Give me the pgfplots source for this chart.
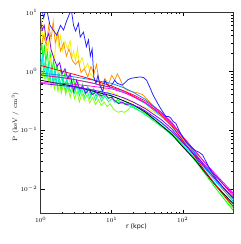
\documentclass[border=0pt]{standalone}
\usepackage{pgfplots}
\pgfplotsset{compat=1.18}
\usepackage{fontspec}
\newfontfamily\dejavu{DejaVu Sans}
\definecolor{cBlue}{HTML}{1E1EFF}
\definecolor{cPurple}{HTML}{8000FF}
\definecolor{cMag}{HTML}{FF00FF}
\definecolor{cPink}{HTML}{FF0080}
\definecolor{cRed}{HTML}{FF0000}
\definecolor{cOrange}{HTML}{FF9000}
\definecolor{cYellow}{HTML}{F0F000}
\definecolor{cChart}{HTML}{80FF00}
\definecolor{cGreen}{HTML}{00FF00}
\definecolor{cSpring}{HTML}{00FF90}
\definecolor{cCyan}{HTML}{00F0F0}
\definecolor{cAzure}{HTML}{0090FF}
\definecolor{cSky}{HTML}{00C8FF}
\begin{document}
\begin{tikzpicture}
\begin{axis}[name=ax,
  at={(0,0)}, anchor=south west,
  xmode=log, ymode=log,
  width=192.6pt, height=201.4pt, scale only axis,
  xmin=1, xmax=515, ymin=0.0038, ymax=10,
  xtick={1,10,100}, ytick={0.01,0.1,1,10},
  tick align=inside, tick pos=both,
  major tick length=4pt, minor tick length=2pt,
  every tick/.style={black, line width=0.5pt},
  axis line style={line width=0.8pt, black!80},
  tick label style={font=\fontsize{6}{7}\selectfont},
  xlabel={\dejavu r (kpc)},
  ylabel={$\mathrm{P\ (keV\ /\ cm^3)}$},
  xlabel style={at={(axis description cs:0.497,-0.066)}, anchor=center, font=\fontsize{6.3}{7}\selectfont},
  ylabel style={at={(axis description cs:-0.133,0.48)}, anchor=center, font=\fontsize{6.3}{7}\selectfont},
  every axis plot/.append style={line width=0.75pt, no markers},
]
% chartreuse noisy
\addplot[cChart] coordinates {(1.0,1.5)(1.05,0.8)(1.1,1.1)(1.15,0.7)(1.2,1.2)(1.27,0.65)(1.33,0.9)(1.4,0.55)(1.48,0.8)(1.56,0.5)(1.65,0.7)(1.75,0.45)(1.85,0.65)(1.95,0.42)(2.1,0.6)(2.25,0.4)(2.4,0.55)(2.6,0.36)(2.8,0.5)(3.0,0.34)(3.25,0.46)(3.5,0.3)(3.8,0.42)(4.1,0.32)(4.5,0.4)(4.9,0.29)(5.4,0.36)(5.9,0.27)(6.5,0.33)(7.1,0.26)(7.8,0.3)(8.6,0.25)(9.5,0.28)(10.5,0.23)(11.5,0.21)(12.5,0.2)(13.5,0.21)(15,0.2)(17,0.22)(19,0.26)(22,0.25)(26,0.22)(32,0.18)(40,0.14)(50,0.115)(70,0.085)(100,0.055)(150,0.032)(200,0.02)(300,0.011)(515,0.0046)};
% green noisy
\addplot[cGreen] coordinates {(1.0,2)(1.04,3)(1.08,1.5)(1.13,2.8)(1.18,1.4)(1.24,2.2)(1.3,1.1)(1.37,1.9)(1.44,1.0)(1.52,1.6)(1.6,0.85)(1.7,1.3)(1.8,0.75)(1.92,1.1)(2.05,0.65)(2.2,0.95)(2.35,0.6)(2.5,0.85)(2.7,0.52)(2.9,0.75)(3.1,0.5)(3.35,0.65)(3.6,0.45)(3.9,0.6)(4.2,0.42)(4.6,0.55)(5.0,0.4)(5.5,0.5)(6.0,0.37)(6.6,0.46)(7.3,0.35)(8,0.42)(9,0.34)(10,0.37)(11,0.3)(12,0.33)(14,0.29)(17,0.28)(20,0.25)(25,0.21)(30,0.19)(40,0.15)(50,0.12)(70,0.088)(100,0.055)(150,0.03)(200,0.019)(300,0.0098)(515,0.0043)};
% spring green noisy
\addplot[cSpring] coordinates {(1.0,1.2)(1.05,1.7)(1.1,0.9)(1.16,1.4)(1.22,0.8)(1.29,1.2)(1.36,0.7)(1.44,1.05)(1.52,0.62)(1.62,0.9)(1.72,0.56)(1.83,0.8)(1.95,0.5)(2.1,0.72)(2.25,0.46)(2.4,0.66)(2.6,0.44)(2.8,0.6)(3.0,0.42)(3.25,0.56)(3.5,0.38)(3.8,0.5)(4.1,0.36)(4.5,0.47)(4.9,0.34)(5.4,0.44)(5.9,0.32)(6.5,0.41)(7.2,0.31)(8,0.38)(9,0.3)(10,0.34)(11,0.3)(13,0.29)(16,0.27)(20,0.24)(25,0.21)(30,0.18)(40,0.14)(50,0.115)(70,0.082)(100,0.053)(150,0.031)(200,0.02)(300,0.0108)(515,0.005)};
% cyan noisy
\addplot[cCyan] coordinates {(1.0,2.0)(1.03,1.2)(1.07,1.9)(1.11,1.0)(1.16,1.6)(1.21,0.85)(1.27,1.3)(1.33,0.75)(1.4,1.15)(1.48,0.68)(1.56,1.0)(1.65,0.62)(1.75,0.9)(1.86,0.58)(2.0,0.8)(2.15,0.55)(2.3,0.72)(2.5,0.5)(2.7,0.66)(2.95,0.48)(3.2,0.6)(3.5,0.45)(3.8,0.56)(4.2,0.43)(4.6,0.52)(5.1,0.41)(5.6,0.5)(6.2,0.4)(7,0.46)(7.8,0.39)(8.7,0.44)(10,0.38)(12,0.35)(15,0.31)(20,0.26)(25,0.23)(30,0.2)(40,0.16)(50,0.13)(70,0.093)(100,0.058)(150,0.033)(200,0.021)(300,0.0115)(515,0.0054)};
% yellow noisy
\addplot[cYellow] coordinates {(1.0,3.5)(1.03,8)(1.07,3)(1.12,4.5)(1.2,2.2)(1.28,3.2)(1.35,1.4)(1.45,2.1)(1.55,1.6)(1.7,4.5)(1.8,2.6)(1.9,4)(2.05,2.2)(2.2,3.2)(2.4,2.4)(2.6,3.3)(2.75,1.7)(2.9,2.2)(3.1,1.5)(3.3,2.5)(3.5,1.3)(3.8,1.7)(4.2,1.1)(4.6,1.35)(5.0,0.9)(5.5,0.8)(6,0.62)(7,0.55)(8,0.5)(10,0.44)(13,0.37)(17,0.32)(22,0.28)(30,0.24)(40,0.2)(50,0.17)(60,0.15)(70,0.12)(85,0.1)(100,0.075)(130,0.05)(170,0.033)(200,0.026)(300,0.014)(400,0.0095)(515,0.0066)};
% orange noisy
\addplot[cOrange] coordinates {(1.0,2.5)(1.1,4)(1.2,2.8)(1.3,6)(1.4,3.5)(1.5,7)(1.6,3)(1.75,4.5)(1.9,2.2)(2.1,3)(2.3,1.8)(2.5,2.4)(2.8,1.5)(3.1,1.3)(3.4,1.5)(3.7,0.95)(4.1,1.1)(4.6,0.8)(5.1,1.2)(5.6,0.9)(6.1,1.3)(6.6,0.7)(7.2,0.55)(8,0.75)(9,0.6)(10,0.85)(11,0.7)(12,0.9)(13,0.75)(14.5,0.55)(16,0.48)(19,0.45)(23,0.43)(27,0.4)(32,0.33)(40,0.24)(50,0.18)(70,0.12)(100,0.07)(150,0.04)(200,0.025)(300,0.0135)(515,0.006)};
% black smooth
\addplot[black] coordinates {(1,0.7)(3,0.55)(10,0.38)(20,0.27)(30,0.2)(50,0.12)(70,0.085)(100,0.052)(150,0.031)(200,0.02)(300,0.011)(515,0.0056)};
% sky smooth
\addplot[cSky] coordinates {(1,0.86)(2,0.78)(3,0.72)(5,0.64)(7,0.58)(10,0.52)(15,0.44)(20,0.37)(30,0.28)(50,0.17)(70,0.115)(100,0.066)(150,0.037)(200,0.023)(300,0.0128)(515,0.0062)};
% azure smooth
\addplot[cAzure] coordinates {(1,0.93)(2,0.85)(3,0.8)(5,0.72)(7,0.67)(10,0.62)(15,0.52)(20,0.44)(30,0.33)(50,0.2)(70,0.13)(100,0.075)(150,0.04)(200,0.025)(300,0.014)(515,0.0068)};
% red smooth
\addplot[cRed] coordinates {(1,1.25)(2,1.0)(3,0.88)(5,0.74)(7,0.64)(10,0.56)(15,0.46)(20,0.38)(30,0.29)(50,0.18)(70,0.12)(100,0.066)(150,0.035)(200,0.021)(300,0.011)(515,0.005)};
% pink smooth
\addplot[cPink] coordinates {(1,0.86)(2,0.78)(3,0.72)(5,0.64)(7,0.58)(10,0.53)(13.5,0.48)(20,0.4)(30,0.31)(50,0.2)(70,0.135)(100,0.078)(150,0.044)(200,0.029)(300,0.016)(515,0.0076)};
% purple smooth
\addplot[cPurple] coordinates {(1,0.62)(2,0.57)(3,0.54)(5,0.49)(7,0.45)(10,0.41)(15,0.35)(20,0.3)(30,0.23)(50,0.15)(70,0.105)(100,0.062)(150,0.036)(200,0.024)(300,0.014)(515,0.007)};
% purple noisy
\addplot[cPurple] coordinates {(1.0,7)(1.05,5)(1.12,6)(1.2,3.4)(1.3,4.4)(1.4,2.3)(1.55,1.6)(1.7,1.2)(1.85,1.4)(2.0,0.9)(2.2,1.1)(2.4,0.75)(2.6,0.9)(2.9,0.45)(3.2,0.7)(3.5,0.5)(3.9,0.55)(4.3,0.42)(4.8,0.5)(5.3,0.4)(6,0.44)(7,0.38)(8,0.41)(9,0.35)(10,0.36)(11,0.32)(12.5,0.28)(14,0.3)(16,0.27)(18,0.28)(21,0.26)(25,0.24)(30,0.21)(40,0.165)(50,0.135)(70,0.095)(100,0.062)(150,0.038)(200,0.026)(300,0.016)(400,0.011)(515,0.0083)};
% magenta smooth
\addplot[cMag] coordinates {(1,0.64)(2,0.62)(3,0.6)(5,0.56)(7,0.53)(10,0.5)(15,0.43)(20,0.37)(30,0.29)(50,0.19)(70,0.13)(100,0.075)(150,0.043)(200,0.029)(300,0.017)(515,0.0085)};
% blue noisy outlier
\addplot[cBlue] coordinates {(1.0,15)(1.1,8)(1.2,12)(1.35,6)(1.5,5)(1.68,4.1)(1.9,6)(2.1,5)(2.3,7)(2.5,9)(2.7,11)(2.9,6)(3.1,4.8)(3.4,6.5)(3.6,3.8)(4.0,4.6)(4.4,2.6)(4.7,3.4)(5.0,1.8)(5.3,2.4)(5.6,0.8)(6.0,0.62)(6.4,0.85)(6.9,0.55)(7.5,0.45)(8.0,0.7)(8.6,0.6)(9.2,0.55)(10,0.58)(11,0.7)(12,0.62)(13,0.6)(14,0.58)(15,0.62)(17,0.72)(19,0.76)(22,0.78)(25,0.8)(28,0.78)(31,0.7)(34,0.55)(38,0.4)(42,0.32)(48,0.24)(53,0.2)(58,0.17)(63,0.17)(68,0.16)(73,0.14)(80,0.13)(90,0.095)(100,0.075)(115,0.06)(130,0.052)(150,0.045)(170,0.042)(190,0.038)(210,0.03)(250,0.02)(300,0.0145)(400,0.0095)(515,0.007)};
\end{axis}
\path ([xshift=-40.7pt,yshift=-30.3pt]ax.south west) rectangle ([xshift=6.7pt,yshift=12.3pt]ax.north east);
\end{tikzpicture}
\end{document}
